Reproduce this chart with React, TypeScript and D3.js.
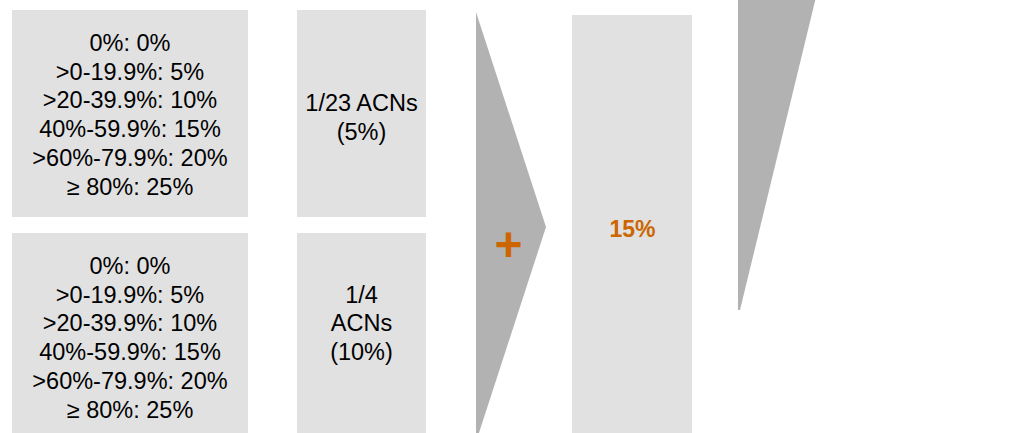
import React, { useEffect, useRef } from "react";
import * as d3 from "d3";

// ---- content ----
const tierLines = [
  "0%: 0%",
  ">0-19.9%: 5%",
  ">20-39.9%: 10%",
  "40%-59.9%: 15%",
  ">60%-79.9%: 20%",
  "≥ 80%: 25%",
];
const acnTopLines = ["1/23 ACNs", "(5%)"];
const acnBottomLines = ["1/4", "ACNs", "(10%)", ""];
const totalLabel = "15%";
const plusLabel = "+";

const W = 1018;
const H = 433;
const LIGHT = "#e1e1e1";
const DARK = "#b2b2b2";
const ORANGE = "#cc6600";
const FONT = "'Liberation Sans', Arial, Helvetica, sans-serif";
const LH = 28.7;

export default function App() {
  const ref = useRef<SVGSVGElement | null>(null);

  useEffect(() => {
    const svg = d3.select(ref.current);
    svg.selectAll("*").remove();

    const line = d3.line<[number, number]>().curve(d3.curveLinearClosed);

    // boxes: [x0, y0, x1, y1, lines, dyExtra]
    const boxes: { x0: number; y0: number; x1: number; y1: number; lines: string[]; dy: number }[] = [
      { x0: 12, y0: 10, x1: 248, y1: 217, lines: tierLines, dy: 0 },
      { x0: 297, y0: 10, x1: 426, y1: 217, lines: acnTopLines, dy: 3 },
      { x0: 12, y0: 233, x1: 248, y1: 440, lines: tierLines, dy: 0 },
      { x0: 297, y0: 233, x1: 426, y1: 440, lines: acnBottomLines, dy: 0 },
    ];

    boxes.forEach((b) => {
      svg
        .append("rect")
        .attr("x", b.x0)
        .attr("y", b.y0)
        .attr("width", b.x1 - b.x0)
        .attr("height", b.y1 - b.y0)
        .attr("fill", LIGHT);
      const cy = (b.y0 + b.y1) / 2;
      const cx = (b.x0 + b.x1) / 2;
      const first = cy + 9.25 - ((b.lines.length - 1) * LH) / 2 + b.dy;
      const t = svg
        .append("text")
        .attr("font-family", FONT)
        .attr("font-size", 23.5)
        .attr("fill", "#000")
        .attr("text-anchor", "middle");
      b.lines.forEach((l, i) => {
        if (!l) return;
        t.append("tspan").attr("x", cx).attr("y", first + i * LH).text(l);
      });
    });

    // chevron arrow
    svg
      .append("path")
      .attr("d", line([[476, 12], [546, 227], [476, 442]]))
      .attr("fill", DARK);

    // plus sign
    svg
      .append("text")
      .attr("x", 508.5)
      .attr("y", 261)
      .attr("text-anchor", "middle")
      .attr("font-family", FONT)
      .attr("font-weight", "bold")
      .attr("font-size", 48)
      .attr("fill", ORANGE)
      .text(plusLabel);

    // total box
    svg
      .append("rect")
      .attr("x", 572)
      .attr("y", 15)
      .attr("width", 120)
      .attr("height", 430)
      .attr("fill", LIGHT);
    svg
      .append("text")
      .attr("x", 632.5)
      .attr("y", 236.5)
      .attr("text-anchor", "middle")
      .attr("font-family", FONT)
      .attr("font-weight", "bold")
      .attr("font-size", 23)
      .attr("fill", ORANGE)
      .text(totalLabel);

    // right wedge
    svg
      .append("path")
      .attr("d", line([[738, -5], [816.5, -5], [740, 310], [738, 310]]))
      .attr("fill", DARK);
  }, []);

  return (
    <svg
      ref={ref}
      width={W}
      height={H}
      style={{ position: "absolute", left: 0, top: 0, background: "#fff" }}
    />
  );
}
